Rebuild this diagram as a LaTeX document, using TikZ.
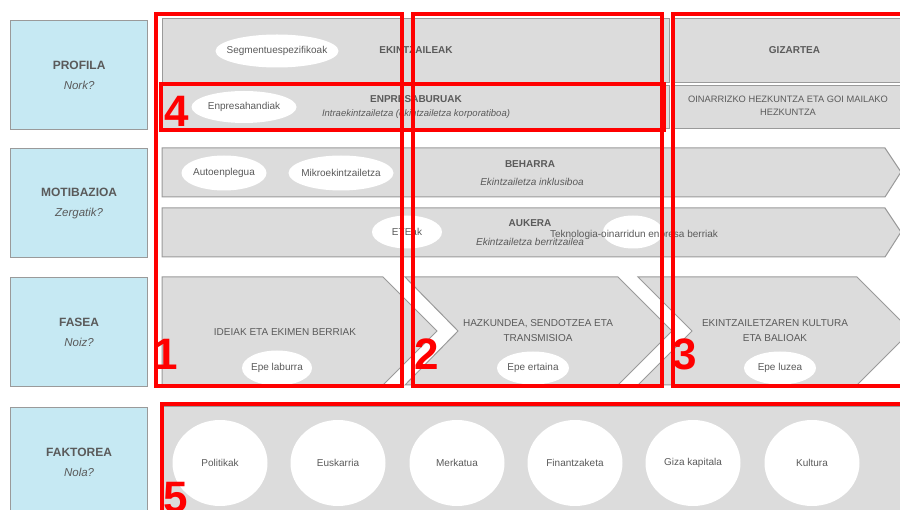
\documentclass[tikz,border=0pt]{standalone}
\usepackage{fontspec}
\setmainfont{Liberation Sans}
\usetikzlibrary{shapes.geometric, positioning, calc}

\definecolor{cellgray}{HTML}{DCDCDC}
\definecolor{edgegray}{HTML}{9A9A9A}
\definecolor{labelblue}{HTML}{C6E9F3}
\definecolor{txtgray}{HTML}{5A5A5A}
\definecolor{markred}{HTML}{FF0000}

\begin{document}
\begin{tikzpicture}[
	x=1pt, y=-1pt,
	every node/.style={text=txtgray, font=\fontsize{10}{15}\selectfont},
	rowlabel/.style={
		rectangle, draw=edgegray, line width=1.2pt, fill=labelblue,
		minimum width=137pt, minimum height=109pt, align=center,
		inner sep=0pt, anchor=north west, font=\fontsize{12}{20}\selectfont
	},
	cell/.style={
		rectangle, draw=edgegray, line width=1pt, fill=cellgray,
		inner sep=0pt, anchor=north west, align=center
	},
	band/.style={draw=edgegray, line width=1pt, fill=cellgray},
	bubble/.style={ellipse, fill=white, inner sep=0pt},
	frame/.style={draw=markred, line width=3.2pt},
	tag/.style={text=markred, inner sep=0pt, anchor=base west,
		font=\fontsize{44}{44}\selectfont\bfseries}
	]
	\useasboundingbox (0,0) rectangle (900,510);
	\clip (0,0) rectangle (900,510);
	
	% Row labels
	\node[rowlabel] (profila) at (10,20) {\textbf{PROFILA}\\{\fontsize{11.5}{14}\selectfont\itshape Nork?}};
	\node[rowlabel] (motibazioa) at (10,148) {\textbf{MOTIBAZIOA}\\{\fontsize{11.5}{14}\selectfont\itshape Zergatik?}};
	\node[rowlabel] (fasea) at (10,277) {\textbf{FASEA}\\{\fontsize{11.5}{14}\selectfont\itshape Noiz?}};
	\node[rowlabel] (faktorea) at (10,407) {\textbf{FAKTOREA}\\{\fontsize{11.5}{14}\selectfont\itshape Nola?}};
	
	% Profile cells
	\node[cell, minimum width=507pt, minimum height=64pt] (ekintzaileak) at (162,18) {\bfseries EKINTZAILEAK};
	\node[cell, minimum width=507pt, minimum height=43pt] (enpresaburuak) at (162,85)
		{\bfseries ENPRESABURUAK\\[-1pt]{\fontsize{9.5}{12}\selectfont\itshape Intraekintzailetza (ekintzailetza korporatiboa)}};
	\node[cell, minimum width=240pt, minimum height=64pt] (gizartea) at (674,18) {\bfseries GIZARTEA};
	\node[cell, minimum width=240pt, minimum height=43pt] (hezkuntza) at (674,85) {};
	\node[align=center, font=\fontsize{9.3}{13}\selectfont] (hezkuntzatxt) at (788,106)
		{OINARRIZKO HEZKUNTZA ETA GOI MAILAKO\\HEZKUNTZA};
	
	% Motivation bands
	\draw[band] (162,148) -- (885,148) -- (901,172) -- (885,197) -- (162,197) -- cycle;
	\draw[band] (162,208) -- (885,208) -- (901,232) -- (885,257) -- (162,257) -- cycle;
	\node (beharra) at (530,164) {\bfseries BEHARRA};
	\node (inklusiboa) at (532,182) {\itshape Ekintzailetza inklusiboa};
	
	% Phase chevrons
	\draw[band] (162,277) -- (383,277) -- (437,331) -- (383,385) -- (162,385) -- cycle;
	\draw[band] (405,277) -- (618,277) -- (672,331) -- (618,385) -- (405,385) -- (458,331) -- cycle;
	\draw[band] (638,277) -- (857,277) -- (911,331) -- (857,385) -- (638,385) -- (692,331) -- cycle;
	\node (ideiak) at (285,332) {IDEIAK ETA EKIMEN BERRIAK};
	\node[align=center] (hazkundea) at (538,331) {HAZKUNDEA, SENDOTZEA ETA\\TRANSMISIOA};
	\node[align=center] (kultura) at (775,331) {EKINTZAILETZAREN KULTURA\\ETA BALIOAK};
	
	% Factor band
	\node[cell, minimum width=750pt, minimum height=115pt] (faktoreak) at (162,406) {};
	
	% Bubbles
	\node[bubble, minimum width=123pt, minimum height=33pt, label=center:Segmentuespezifikoak] (segmentu) at (277,51) {};
	\node[bubble, minimum width=105pt, minimum height=32pt, label=center:Enpresahandiak] (handiak) at (244,107) {};
	\node[bubble, minimum width=85pt, minimum height=35pt, label=center:Autoenplegua] (autoenplegua) at (224,173) {};
	\node[bubble, minimum width=105pt, minimum height=35pt, label=center:Mikroekintzailetza] (mikro) at (341,173) {};
	\node[bubble, minimum width=70pt, minimum height=33pt, label=center:ETEak] (eteak) at (407,232) {};
	\node[bubble, minimum width=60pt, minimum height=33pt] (teknologia) at (633,232) {};
	\node (aukera) at (530,223) {\bfseries AUKERA};
	\node (berritzailea) at (530,242) {\itshape Ekintzailetza berritzailea};
	\node (berriak) at (634,235) {Teknologia-oinarridun enpresa berriak};
	\node[bubble, minimum width=70pt, minimum height=35pt, label=center:Epe laburra] (laburra) at (277,368) {};
	\node[bubble, minimum width=72pt, minimum height=33pt, label=center:Epe ertaina] (ertaina) at (533,368) {};
	\node[bubble, minimum width=72pt, minimum height=33pt, label=center:Epe luzea] (luzea) at (780,368) {};
	
	% Factor circles
	\foreach \fx/\ftxt [count=\i] in {220/Politikak, 338/Euskarria, 457/Merkatua,
		575/Finantzaketa, 693/Giza kapitala, 812/Kultura}
		\node[bubble, minimum width=95pt, minimum height=86pt, label=center:\ftxt] (faktore\i) at (\fx,463) {};
	
	% Red frames
	\draw[frame] (156,14) rectangle (402,386);
	\draw[frame] (413,14) rectangle (662,386);
	\draw[frame] (673,14) rectangle (910,386);
	\draw[frame] (161,84) rectangle (664,130);
	\draw[frame] (162,404) rectangle (910,520);
	\node[tag] (n1) at (153,370) {1};
	\node[tag] (n2) at (414,370) {2};
	\node[tag] (n3) at (672,370) {3};
	\node[tag] (n4) at (164,127) {4};
	\node[tag] (n5) at (163,512) {5};
	
\end{tikzpicture}
\end{document}
